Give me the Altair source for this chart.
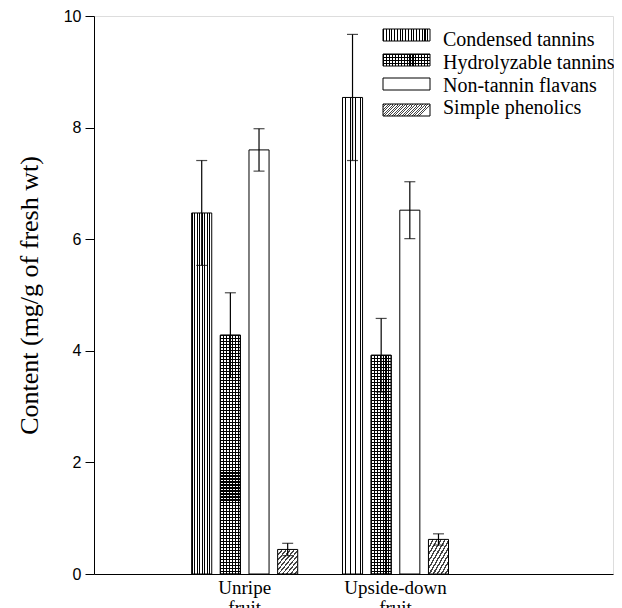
import altair as alt
import pandas as pd

# ---- data ----
groups = ["Unripe fruit", "Upside-down fruit"]
series = ["Condensed tannins", "Hydrolyzable tannins", "Non-tannin flavans", "Simple phenolics"]
unripe_means = [6.47, 4.28, 7.60, 0.44]
unripe_errs = [0.94, 0.76, 0.38, 0.11]
upside_means = [8.54, 3.92, 6.52, 0.62]
upside_errs = [1.13, 0.66, 0.51, 0.10]
y_ticks = [0, 2, 4, 6, 8, 10]

rows = []
for g, means, errs in [(groups[0], unripe_means, unripe_errs), (groups[1], upside_means, upside_errs)]:
    for s, m, e in zip(series, means, errs):
        rows.append({"group": g, "series": s, "value": m, "lo": m - e, "hi": m + e})
df = pd.DataFrame(rows)

SERIF = "Liberation Serif"
SANS = "Liberation Sans"
PLOT_H = 558


def stripes(n, line, bg, frac, x1=0, y1=0, x2=1, y2=0):
    stops = []
    for i in range(n):
        a = i / n
        b = (i + frac) / n
        c = (i + 1) / n
        stops += [
            {"offset": a, "color": line},
            {"offset": b, "color": line},
            {"offset": b, "color": bg},
            {"offset": c, "color": bg},
        ]
    return {"gradient": "linear", "x1": x1, "y1": y1, "x2": x2, "y2": y2, "stops": stops}


fill_condensed = stripes(8, "#000000", "#ffffff", 0.38)
fill_hydro_v = stripes(7, "#000000", "#ffffff", 0.40)
fill_simple = stripes(10, "#444444", "#ffffff", 0.40, 0, 0, 1, 1)

leg_condensed = stripes(17, "#000000", "#ffffff", 0.38)
leg_hydro_v = stripes(16, "#000000", "#ffffff", 0.40)
leg_hydro_h = stripes(4, "#000000", "rgba(255,255,255,0)", 0.38, 0, 0, 0, 1)
leg_simple = stripes(20, "#444444", "#ffffff", 0.40, 0, 0, 1, 0.25)

x_enc = alt.X(
    "group:N",
    sort=groups,
    scale=alt.Scale(domain=groups, paddingInner=0.297, paddingOuter=0.8693, align=0.3726),
    axis=alt.Axis(
        title=None, ticks=False, labelAngle=0, labelFont=SERIF, labelFontSize=19,
        labelColor="black", labelPadding=4, labelLineHeight=20, domainColor="black",
        labelExpr="datum.label == 'Unripe fruit' ? ['Unripe', 'fruit'] : ['Upside-down', 'fruit']",
    ),
)
xo_enc = alt.XOffset("series:N", sort=series, scale=alt.Scale(domain=series, paddingInner=0.3, paddingOuter=0))
y_enc = alt.Y(
    "value:Q",
    scale=alt.Scale(domain=[0, 10], nice=False, zero=True),
    axis=alt.Axis(
        values=y_ticks, title="Content (mg/g of fresh wt)", titleFont=SERIF, titleFontSize=26,
        titleFontWeight="normal", titleColor="black", titlePadding=21, labelFont=SANS,
        labelFontSize=16, labelColor="black", tickSize=9, tickColor="black",
        domainColor="black", grid=False, labelPadding=4,
    ),
)

base = alt.Chart(df)


def bar_layer(name, fill):
    return base.transform_filter(alt.datum.series == name).mark_bar(
        fill=fill, stroke="black", strokeWidth=1
    ).encode(x=x_enc, xOffset=xo_enc, y=y_enc)


bars = [bar_layer(series[0], fill_condensed), bar_layer(series[1], fill_hydro_v)]
# horizontal lines of the cross-hatch, about 3 px apart in each bar
for g, means in [(groups[0], unripe_means), (groups[1], upside_means)]:
    n_lines = max(1, round(means[1] * PLOT_H / 10 / 3))
    bars.append(
        base.transform_filter((alt.datum.series == series[1]) & (alt.datum.group == g)).mark_bar(
            fill=stripes(n_lines, "#000000", "rgba(255,255,255,0)", 0.38, 0, 0, 0, 1), strokeWidth=0
        ).encode(x=x_enc, xOffset=xo_enc, y=y_enc)
    )
bars += [
    base.transform_filter(alt.datum.series == series[1]).mark_bar(fill="transparent", stroke="black", strokeWidth=1).encode(
        x=x_enc, xOffset=xo_enc, y=y_enc),
    bar_layer(series[2], "#ffffff"),
    bar_layer(series[3], fill_simple),
]

err_rule = base.mark_rule(color="black", strokeWidth=1.2).encode(
    x=x_enc, xOffset=xo_enc, y=alt.Y("lo:Q"), y2="hi:Q")
cap_hi = base.mark_tick(color="black", size=11, thickness=1.2, orient="horizontal").encode(
    x=x_enc, xOffset=xo_enc, y=alt.Y("hi:Q"))
cap_lo = base.mark_tick(color="black", size=11, thickness=1.2, orient="horizontal").encode(
    x=x_enc, xOffset=xo_enc, y=alt.Y("lo:Q"))

# ---- manual legend ----
dummy = alt.Data(values=[{}])
leg_layers = []
sw_x0, sw_x1 = 289, 336  # relative to plot area
sw_tops = [13, 38, 62, 88]
txt_y = [24, 47, 70, 92]
leg_fills = [[leg_condensed], [leg_hydro_v, leg_hydro_h], ["#ffffff"], [leg_simple]]
for i, name in enumerate(series):
    for j, f in enumerate(leg_fills[i]):
        last = j == len(leg_fills[i]) - 1
        leg_layers.append(
            alt.Chart(dummy).mark_rect(fill=f, stroke="black" if last else "transparent", strokeWidth=1 if last else 0).encode(
                x=alt.value(sw_x0), x2=alt.value(sw_x1), y=alt.value(sw_tops[i]), y2=alt.value(sw_tops[i] + 12))
        )
    leg_layers.append(
        alt.Chart(dummy).mark_text(align="left", baseline="middle", font=SERIF, fontSize=20, color="black").encode(
            x=alt.value(349), y=alt.value(txt_y[i]), text=alt.value(name))
    )

chart = alt.layer(*bars, err_rule, cap_hi, cap_lo, *leg_layers).properties(
    width=519, height=PLOT_H,
    autosize=alt.AutoSizeParams(type="none"),
    padding={"left": 86, "top": 8, "right": 1, "bottom": 40},
).configure_view(stroke="black", strokeWidth=1).configure(background="white")

chart.save("out.html", embed_options={"renderer": "svg", "actions": False})
